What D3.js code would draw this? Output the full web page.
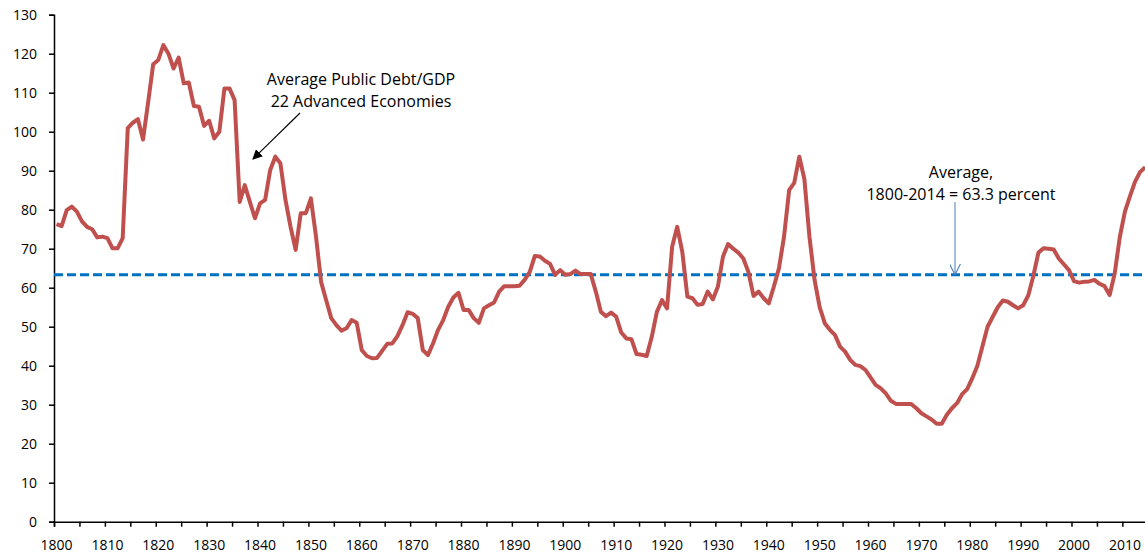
<!DOCTYPE html>
<html>
<head>
<meta charset="utf-8">
<script src="https://cdn.jsdelivr.net/npm/d3@7"></script>
<style>
  body { margin: 0; background: #fff; }
  svg { display: block; font-family: "Open Sans", sans-serif; }
</style>
</head>
<body>
<div id="chart"></div>
<script>
// public debt / GDP, 22 advanced economies, 1800-2014 (one value per year)
var firstYear = 1800;
var lastYear = 2014;
var debt = [
  76.3, 75.8, 79.9, 80.8, 79.5, 77, 75.6, 75, 72.9, 73.1,
  72.7, 70.1, 70.1, 72.7, 100.9, 102.3, 103.2, 98, 107.5, 117.3,
  118.4, 122.2, 120, 116.2, 119, 112.4, 112.6, 106.6, 106.4, 101.5,
  102.8, 98.3, 100, 111.1, 111.1, 108.1, 82, 86.3, 82, 77.8,
  81.6, 82.5, 90.2, 93.6, 91.9, 82.5, 75.6, 69.7, 79.1, 79.1,
  82.9, 73.1, 61.5, 56.8, 52.2, 50.4, 49, 49.6, 51.7, 51,
  44, 42.5, 41.9, 42, 43.8, 45.6, 45.7, 47.6, 50.4, 53.7,
  53.3, 52.2, 44, 42.7, 45.7, 49.2, 51.7, 55.1, 57.5, 58.7,
  54.3, 54.3, 52.2, 51, 54.7, 55.5, 56.2, 59, 60.4, 60.4,
  60.4, 60.5, 62, 64, 68.1, 68, 66.9, 66.1, 63.3, 64.5,
  63.3, 63.5, 64.4, 63.5, 63.5, 63.5, 59, 53.8, 52.7, 53.6,
  52.6, 48.5, 47, 46.8, 43, 42.8, 42.5, 47.4, 53.8, 56.8,
  54.7, 70.5, 75.6, 69.2, 57.7, 57.3, 55.6, 55.8, 59, 57,
  60.3, 68, 71.2, 70, 69, 67.5, 64, 57.9, 59, 57.3,
  56, 60.3, 65, 73.1, 85, 86.9, 93.6, 87.8, 73, 62,
  55, 50.9, 49.2, 47.9, 44.9, 43.6, 41.5, 40.2, 39.9, 38.9,
  37, 35.1, 34.2, 32.9, 31, 30.2, 30.2, 30.2, 30.2, 29.1,
  27.8, 27, 26.2, 25.1, 25.1, 27.4, 29.1, 30.4, 32.7, 34,
  36.8, 40, 45, 50, 52.5, 55, 56.7, 56.4, 55.5, 54.7,
  55.5, 58, 63, 69, 70.1, 70, 69.8, 67.5, 66, 64.5,
  61.7, 61.3, 61.5, 61.6, 62, 61, 60.4, 58.1, 63.7, 73,
  79.5, 83.5, 87.2, 89.7, 90.9
];
var average = 63.3;
var yTicks = [0, 10, 20, 30, 40, 50, 60, 70, 80, 90, 100, 110, 120, 130];
var xLabelYears = [1800, 1810, 1820, 1830, 1840, 1850, 1860, 1870, 1880, 1890,
                   1900, 1910, 1920, 1930, 1940, 1950, 1960, 1970, 1980, 1990, 2000, 2010];
var xTickYears = d3.range(firstYear, lastYear + 2, 5);
var seriesLabel = ["Average Public Debt/GDP", "22 Advanced Economies"];
var averageLabel = ["Average,", "1800-2014 = 63.3 percent"];

var w = 1145;
var h = 558;
var plotLeft = 54, plotRight = 1147.8, plotTop = 14.7, plotBottom = 521.7;

var years = d3.range(firstYear, lastYear + 1);

var svg = d3.select("#chart")
            .append("svg")
            .attr("width", w)
            .attr("height", h);

// category axis like excel: one band per year
var x = d3.scaleBand()
          .domain(years)
          .range([plotLeft, plotRight])
          .padding(0);
var xEdge = d3.scaleLinear()
              .domain([firstYear, lastYear + 1])
              .range([plotLeft, plotRight]);
var y = d3.scaleLinear()
          .domain([0, 130])
          .range([plotBottom, plotTop]);

// y axis
var yAxis = svg.append("g")
  .attr("transform", "translate(" + plotLeft + ",0)")
  .call(d3.axisLeft(y).tickValues(yTicks).tickSize(5).tickPadding(12));

// x axis: tick marks on band edges, labels on band centres
var xTicks = svg.append("g")
  .attr("transform", "translate(0," + plotBottom + ")")
  .call(d3.axisBottom(xEdge).tickValues(xTickYears).tickSize(5).tickFormat(""));
var xLabels = svg.append("g")
  .attr("transform", "translate(0," + plotBottom + ")")
  .call(d3.axisBottom(x).tickValues(xLabelYears).tickSize(0).tickPadding(18));
xLabels.select(".domain").remove();

svg.selectAll("g")
   .attr("font-family", null)
   .attr("font-size", null);
svg.selectAll(".tick text")
   .attr("font-size", "14px")
   .attr("fill", "#000");
svg.selectAll(".domain, .tick line")
   .attr("stroke", "#000")
   .attr("stroke-width", 1.5);

// average line
svg.append("line")
   .attr("x1", plotLeft)
   .attr("x2", plotRight)
   .attr("y1", y(average))
   .attr("y2", y(average))
   .attr("stroke", "#0070c0")
   .attr("stroke-width", 3)
   .attr("stroke-dasharray", "9,4");

// debt series
var line = d3.line()
  .x(function(d, i) { return x(years[i]) + x.bandwidth() / 2; })
  .y(function(d) { return y(d); });

svg.append("path")
   .datum(debt)
   .attr("d", line)
   .attr("fill", "none")
   .attr("stroke", "#c0504d")
   .attr("stroke-width", 4)
   .attr("stroke-linejoin", "round");

// annotations
var defs = svg.append("defs");
defs.append("marker")
    .attr("id", "blackHead")
    .attr("viewBox", "0 0 10 10")
    .attr("refX", 9).attr("refY", 5)
    .attr("markerWidth", 10).attr("markerHeight", 10)
    .attr("markerUnits", "userSpaceOnUse")
    .attr("orient", "auto")
    .append("path")
    .attr("d", "M0,0 L10,5 L0,10 z")
    .attr("fill", "#000");
defs.append("marker")
    .attr("id", "blueHead")
    .attr("viewBox", "0 0 10 10")
    .attr("refX", 10).attr("refY", 5)
    .attr("markerWidth", 11).attr("markerHeight", 11)
    .attr("markerUnits", "userSpaceOnUse")
    .attr("orient", "auto")
    .append("path")
    .attr("d", "M0,0 L10,5 L0,10")
    .attr("fill", "none")
    .attr("stroke", "#4a7ebb")
    .attr("stroke-width", 1);

svg.selectAll("text.series")
   .data(seriesLabel)
   .enter()
   .append("text")
   .attr("class", "series")
   .text(function(d) { return d; })
   .attr("x", 361)
   .attr("y", function(d, i) { return 85 + i * 22; })
   .attr("font-size", "16px")
   .attr("text-anchor", "middle");

svg.append("line")
   .attr("x1", 300).attr("y1", 113)
   .attr("x2", 253).attr("y2", 159)
   .attr("stroke", "#000")
   .attr("stroke-width", 1.2)
   .attr("marker-end", "url(#blackHead)");

svg.selectAll("text.avg")
   .data(averageLabel)
   .enter()
   .append("text")
   .attr("class", "avg")
   .text(function(d) { return d; })
   .attr("x", 961)
   .attr("y", function(d, i) { return 178 + i * 22; })
   .attr("font-size", "16px")
   .attr("text-anchor", "middle");

svg.append("line")
   .attr("x1", 955).attr("y1", 202)
   .attr("x2", 955).attr("y2", y(average))
   .attr("stroke", "#4a7ebb")
   .attr("stroke-width", 1)
   .attr("marker-end", "url(#blueHead)");
</script>
</body>
</html>
